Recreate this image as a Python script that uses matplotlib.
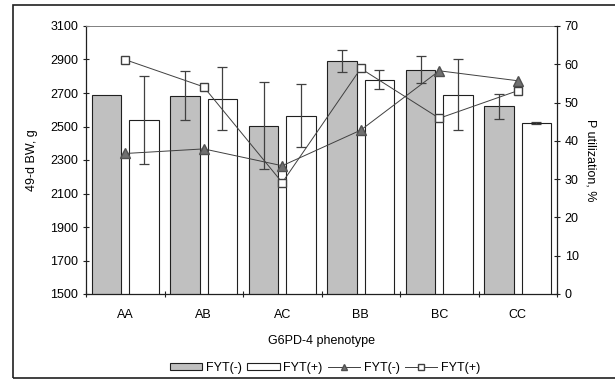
import numpy as np
import matplotlib
matplotlib.use('Agg')
import matplotlib.pyplot as plt
from matplotlib.patches import Patch, Rectangle
from matplotlib.lines import Line2D

plt.rcParams['font.family'] = ['Liberation Sans', 'DejaVu Sans']

# data
phenotypes = ['AA', 'AB', 'AC', 'BB', 'BC', 'CC']
bw_neg = [2690, 2685, 2505, 2890, 2840, 2620]
bw_neg_err = [0, 145, 260, 66, 80, 77]
bw_pos = [2540, 2665, 2565, 2780, 2690, 2522]
bw_pos_err = [263, 188, 190, 59, 210, 7]
pu_neg = [36.7, 37.9, 33.5, 42.8, 58.3, 55.7]
pu_pos = [61.2, 54.1, 29.1, 58.9, 45.9, 53.1]

x = np.arange(len(phenotypes))
w = 0.375
off = 0.2375
edge = '#202020'
dark = '#404040'
fs = 9

fig = plt.figure(figsize=(6.15, 3.8), dpi=100)
ax = fig.add_axes([86 / 615, 1 - 294 / 380, (557 - 86) / 615, (294 - 26) / 380])

ax.bar(x - off, bw_neg, w, bottom=0, color='#c0c0c0', edgecolor=edge, linewidth=0.8, zorder=2)
ax.bar(x + off, bw_pos, w, bottom=0, color='white', edgecolor=edge, linewidth=0.8, zorder=2)

for i in range(len(x)):
    if bw_neg_err[i] > 0:
        ax.errorbar(x[i] - off, bw_neg[i], yerr=bw_neg_err[i], fmt='none',
                    ecolor=dark, elinewidth=0.9, capsize=3.5, capthick=0.9, zorder=3)
    if bw_pos_err[i] > 0:
        ax.errorbar(x[i] + off, bw_pos[i], yerr=bw_pos_err[i], fmt='none',
                    ecolor=dark, elinewidth=0.9, capsize=3.5, capthick=0.9, zorder=3)

ax.set_xlim(-0.5, len(x) - 0.5)
ax.set_ylim(1500, 3100)
ax.set_yticks(np.arange(1500, 3101, 200))
ax.set_xticks(x)
ax.set_xticklabels(phenotypes)
ax.set_xticks(np.arange(-0.5, len(x)), minor=True)
ax.tick_params(axis='x', which='major', length=0, pad=11, labelsize=fs)
ax.tick_params(axis='x', which='minor', direction='inout', length=5, width=0.8, color=edge)
ax.tick_params(axis='y', direction='inout', length=5, width=0.8, color=edge, labelsize=fs, pad=3)
ax.set_ylabel('49-d BW, g', fontsize=fs, labelpad=9)
ax.set_xlabel('G6PD-4 phenotype', fontsize=fs, labelpad=10)
for s in ['left', 'bottom']:
    ax.spines[s].set_linewidth(0.9)
    ax.spines[s].set_color(edge)
ax.spines['top'].set_color('#808080')
ax.spines['top'].set_linewidth(0.7)
ax.spines['right'].set_visible(False)

ax2 = ax.twinx()
ax2.plot(x, pu_neg, color=dark, linewidth=0.7, marker='^', markersize=7,
         markerfacecolor='#707070', markeredgecolor='#505050', zorder=4)
ax2.plot(x, pu_pos, color=dark, linewidth=0.7, marker='s', markersize=5.5,
         markerfacecolor='white', markeredgecolor=dark, zorder=5)
ax2.set_ylim(0, 70)
ax2.set_yticks(np.arange(0, 71, 10))
ax2.tick_params(axis='y', direction='inout', length=5, width=0.8, color=edge, labelsize=fs, pad=3)
ax2.set_ylabel('P utilization, %', fontsize=fs, rotation=270, labelpad=13)
ax2.spines['right'].set_linewidth(0.9)
ax2.spines['right'].set_color(edge)
for s in ['left', 'top', 'bottom']:
    ax2.spines[s].set_visible(False)

handles = [
    Patch(facecolor='#c0c0c0', edgecolor=edge, linewidth=0.8),
    Patch(facecolor='white', edgecolor=edge, linewidth=0.8),
    Line2D([], [], color=dark, linewidth=0.7, marker='^', markersize=5,
           markerfacecolor='#707070', markeredgecolor='#505050'),
    Line2D([], [], color=dark, linewidth=0.7, marker='s', markersize=4,
           markerfacecolor='white', markeredgecolor=dark),
]
labels = ['FYT(-)', 'FYT(+)', 'FYT(-)', 'FYT(+)']
fig.legend(handles, labels, loc='center', bbox_to_anchor=(325 / 615, 1 - 368 / 380),
           ncol=4, frameon=False, fontsize=fs, handlelength=2.6, handleheight=0.5,
           handletextpad=0.3, columnspacing=0.4)

# outer chart border
fig.patches.append(Rectangle((13 / 615, 2 / 380), 1.0, 373 / 380, transform=fig.transFigure,
                             fill=False, edgecolor='#202020', linewidth=1.2))

fig.savefig('out.png', dpi=100)
